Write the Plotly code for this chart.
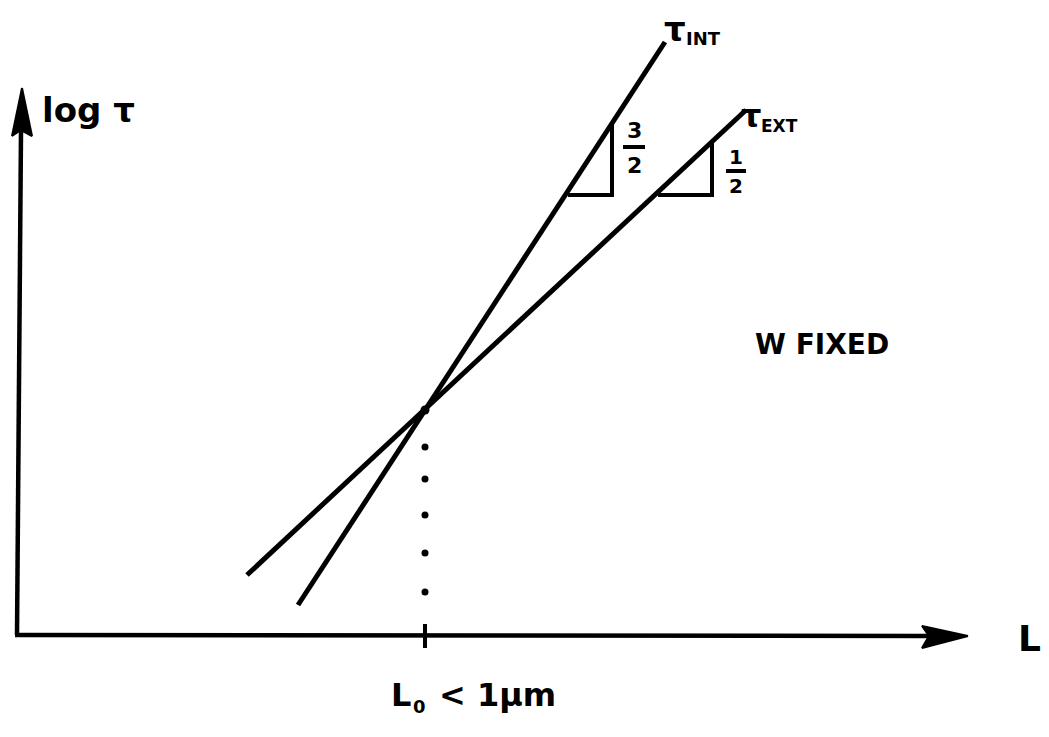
import plotly.graph_objects as go

# Schematic: delay vs. interconnect length, W fixed
# L and log(tau) in arbitrary drawing units
L0 = 408
LOG_TAU0 = 226

int_L = [281, 648]
int_logtau = [31, 594]

ext_L = [230, 729]
ext_logtau = [61, 526]

dot_logtau = [189, 157, 121, 83, 44]

int_tri_L = [551, 595]
ext_tri_L = [641, 695]
tri_base = 441


def line_at(Ls, Ts, x):
    k = (Ts[1] - Ts[0]) / (Ls[1] - Ls[0])
    return Ts[0] + k * (x - Ls[0])


INK = "#000000"
fig = go.Figure()


def seg(xs, ys, w):
    fig.add_trace(go.Scatter(x=xs, y=ys, mode="lines",
                             line=dict(color=INK, width=w),
                             hoverinfo="skip", showlegend=False))


# axes
seg([-2, 915], [1, 0], 4.5)
seg([0, 4], [1, 505], 4.5)
# arrowheads
fig.add_trace(go.Scatter(x=[5, -5, 4, 15, 5], y=[548, 500, 506, 500, 548],
                         mode="lines", fill="toself", fillcolor=INK,
                         line=dict(color=INK, width=2), hoverinfo="skip",
                         showlegend=False))
fig.add_trace(go.Scatter(x=[951, 905, 912, 905, 951], y=[0, 10, 0, -12, 0],
                         mode="lines", fill="toself", fillcolor=INK,
                         line=dict(color=INK, width=2), hoverinfo="skip",
                         showlegend=False))
# tick at L0
seg([L0, L0], [-12, 12], 4)

# the two delay lines
seg(int_L, int_logtau, 5)
seg(ext_L, ext_logtau, 5)

# slope triangles
seg([int_tri_L[0], int_tri_L[1], int_tri_L[1]],
    [tri_base, tri_base, line_at(int_L, int_logtau, int_tri_L[1])], 4)
seg([ext_tri_L[0], ext_tri_L[1], ext_tri_L[1]],
    [tri_base, tri_base, line_at(ext_L, ext_logtau, ext_tri_L[1])], 4)

# dotted drop from the crossover point
fig.add_trace(go.Scatter(x=[L0] * len(dot_logtau), y=dot_logtau, mode="markers",
                         marker=dict(color=INK, size=7), hoverinfo="skip",
                         showlegend=False))
fig.add_trace(go.Scatter(x=[L0], y=[LOG_TAU0], mode="markers",
                         marker=dict(color=INK, size=9), hoverinfo="skip",
                         showlegend=False))

FONT = "DejaVu Sans"


def label(x, y, text, size, xanchor="center"):
    fig.add_annotation(x=x, y=y, text=text, showarrow=False, xanchor=xanchor,
                       yanchor="middle",
                       font=dict(family=FONT, size=size, color=INK,
                                 weight="bold"))


label(23, 526, "log τ", 34, "left")
label(645, 607, "τ", 34, "left")
label(667, 598, "INT", 18, "left")
label(722, 520, "τ", 32, "left")
label(742, 510, "EXT", 17, "left")
label(617, 506, "3", 22)
label(617, 471, "2", 22)
seg([606, 628], [489, 489], 4)
label(719, 479, "1", 20)
label(719, 450, "2", 20)
seg([709, 729], [465, 465], 4)
label(805, 292, "W FIXED", 28)
label(1012, -2, "L", 36)
label(396, -59, "L", 32, "right")
label(394, -70, "0", 18, "left")
label(420, -59, "< 1μm", 32, "left")

fig.update_layout(
    width=1049, height=737,
    margin=dict(l=0, r=0, t=0, b=0),
    paper_bgcolor="white", plot_bgcolor="white",
    xaxis=dict(range=[-17, 1032], visible=False, fixedrange=True),
    yaxis=dict(range=[-101, 636], visible=False, fixedrange=True),
)

fig.write_html("out.html")
